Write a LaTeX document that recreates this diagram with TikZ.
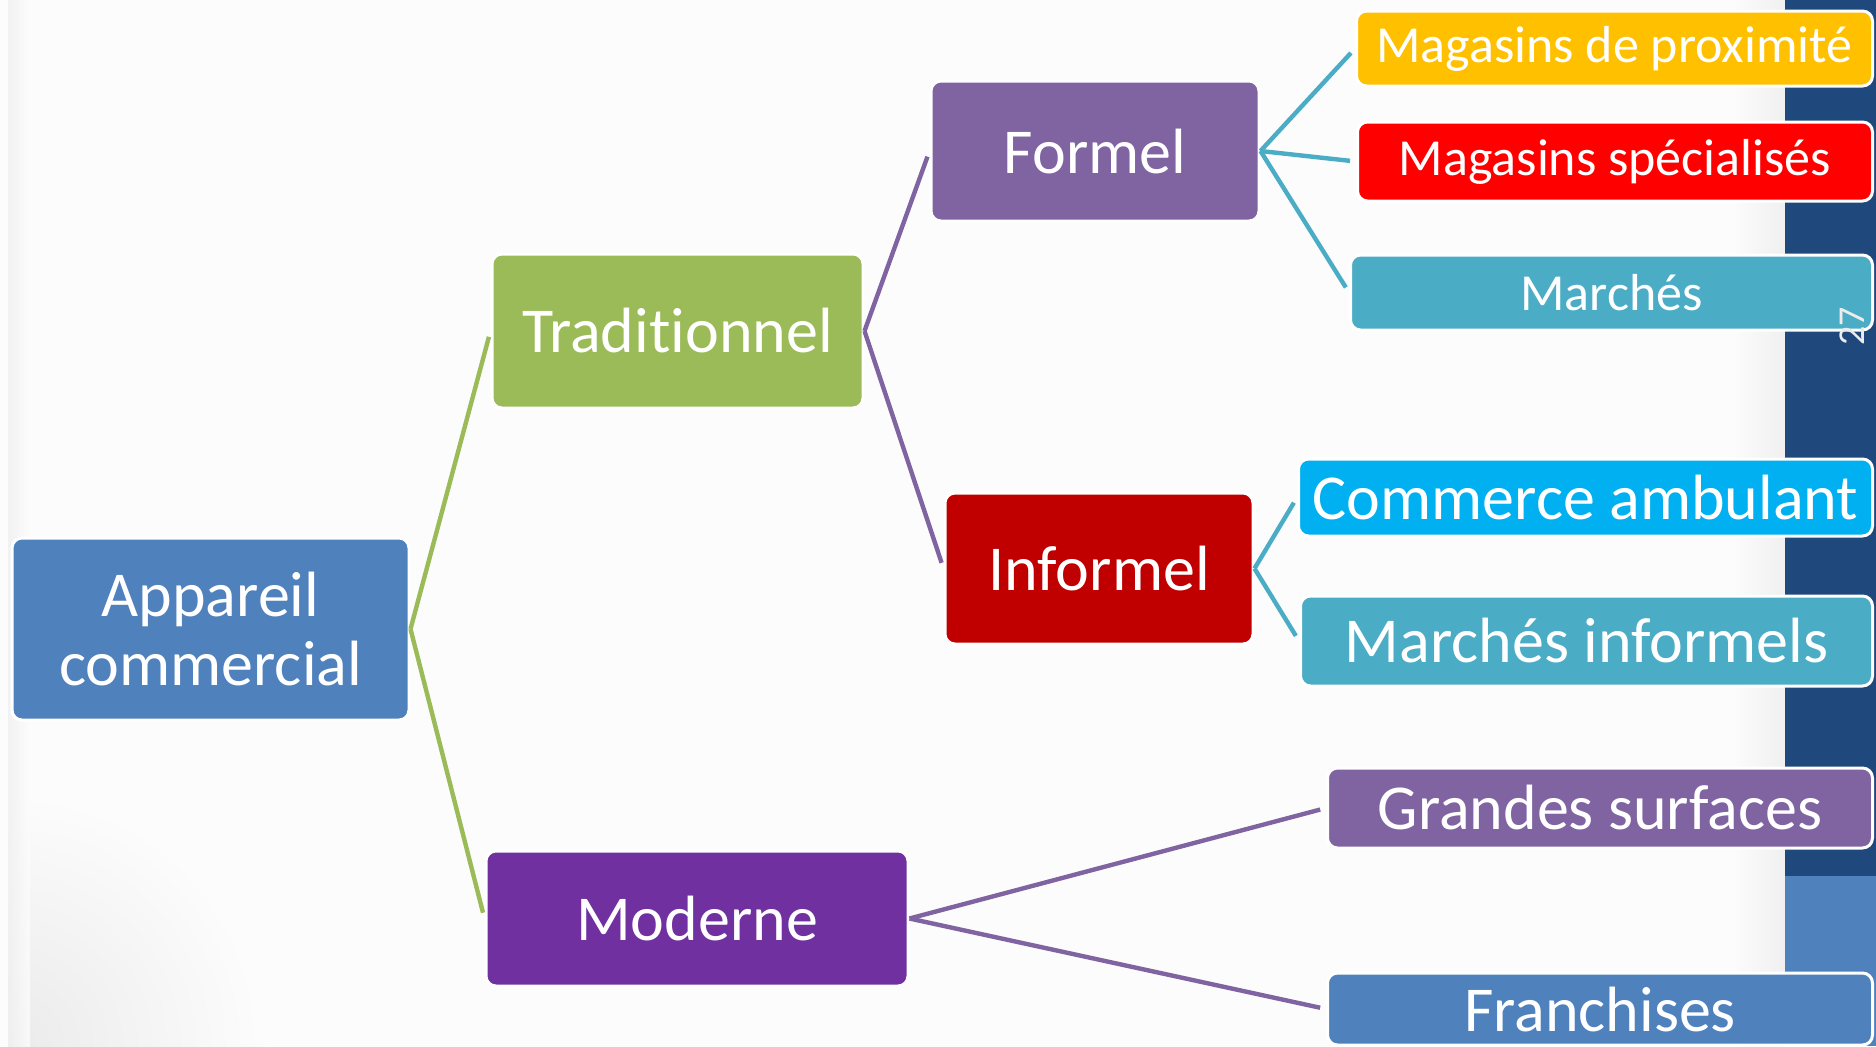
\documentclass[tikz,border=0pt]{standalone}
\usepackage{fontspec}
\setmainfont{Carlito}[Ligatures=NoCommon]
\usetikzlibrary{positioning}

\definecolor{appblue}{HTML}{4F81BD}
\definecolor{barblue}{HTML}{1F497D}
\definecolor{tradgreen}{HTML}{9BBB59}
\definecolor{modpurple}{HTML}{7030A0}
\definecolor{lilac}{HTML}{8064A2}
\definecolor{darkred}{HTML}{C00000}
\definecolor{amber}{HTML}{FFC000}
\definecolor{brightred}{HTML}{FF0000}
\definecolor{teal}{HTML}{4BACC6}
\definecolor{skyblue}{HTML}{00B0F0}

\tikzset{
  box/.style={rectangle, rounded corners=5pt, draw=white, line width=1.5pt,
    text=white, inner sep=0pt, align=center,
    font=\fontsize{32}{34.5}\selectfont},
  leaf/.style={box, anchor=east, font=\fontsize{26}{30}\selectfont},
  bigleaf/.style={box, anchor=east},
  link/.style={line width=2.2pt, shorten >=3pt},
}

\begin{document}
\begin{tikzpicture}[x=0.5pt,y=-0.5pt]
        \useasboundingbox (0,0) rectangle (1876,1046);
        \fill[white!99!black] (0,0) rectangle (1876,1046);
        \begin{scope}
          \clip (8,600) rectangle (500,1046);
          \shade[inner color=gray!16, outer color=white!99!black] (8,1046) circle (260);
        \end{scope}
        \shade[left color=gray!12, right color=white!99!black, opacity=0.8] (8,0) rectangle (30,1046);
        \shade[left color=white!99!black, right color=gray!12] (1730,0) rectangle (1785,1046);
        \fill[barblue] (1785,0) rectangle (1876,876);
        \fill[appblue] (1785,876) rectangle (1876,1046);

        \node[box, fill=appblue, minimum width=198.5pt, minimum height=91pt] (app) at (210.5,629) {Appareil\\commercial};
        \node[box, fill=tradgreen, minimum width=185.5pt, minimum height=77pt] (trad) at (677.5,331) {Traditionnel};
        \node[box, fill=modpurple, minimum width=211pt, minimum height=67.5pt] (mod) at (697,918.5) {Moderne};
        \node[box, fill=lilac, minimum width=164pt, minimum height=70pt] (formel) at (1095,151) {Formel};
        \node[box, fill=darkred, minimum width=154pt, minimum height=75.5pt] (informel) at (1099,568.5) {Informel};

        \node[leaf, fill=amber, minimum width=258pt, minimum height=37.5pt] (prox) at (1874,48.5) {Magasins de proximité};
        \node[leaf, fill=brightred, minimum width=257.5pt, minimum height=39.5pt] (spec) at (1874,161.5) {Magasins spécialisés};
        \node[leaf, fill=teal, minimum width=261pt, minimum height=37.5pt] (marches) at (1874,292.5) {Marchés};
        \node[bigleaf, fill=skyblue, minimum width=287pt, minimum height=38.5pt] (ambulant) at (1874,497.5) {Commerce ambulant};
        \node[bigleaf, fill=teal, minimum width=286pt, minimum height=45pt] (infmarch) at (1874,641) {Marchés informels};
        \node[bigleaf, fill=lilac, minimum width=272.5pt, minimum height=40pt] (grandes) at (1874,808) {Grandes surfaces};
        \node[bigleaf, fill=appblue, minimum width=272.5pt, minimum height=36pt] (franch) at (1874,1009) {Franchises};

        \draw[link, tradgreen] (app.east) -- (trad.west);
        \draw[link, tradgreen] (app.east) -- (mod.west);
        \draw[link, lilac] (trad.east) -- (formel.west);
        \draw[link, lilac] (trad.east) -- (informel.west);
        \draw[link, teal] (formel.east) -- (prox.west);
        \draw[link, teal] (formel.east) -- (spec.west);
        \draw[link, teal] (formel.east) -- (marches.west);
        \draw[link, teal] (informel.east) -- (ambulant.west);
        \draw[link, teal] (informel.east) -- (infmarch.west);
        \draw[link, lilac] (mod.east) -- (grandes.west);
        \draw[link, lilac] (mod.east) -- (franch.west);

        \node[rotate=90, text=gray!15, font=\fontsize{19}{19}\selectfont] (page) at (1852,326) {27};
\end{tikzpicture}
\end{document}
